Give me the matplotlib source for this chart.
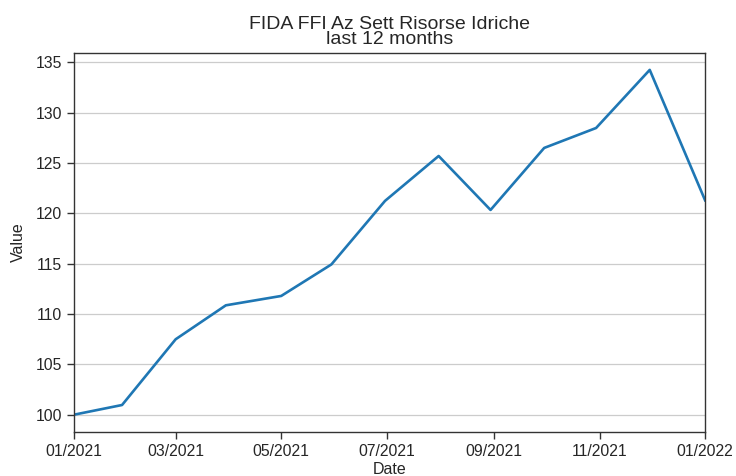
import matplotlib
matplotlib.use("Agg")
import matplotlib.pyplot as plt
import matplotlib.dates as mdates
import pandas as pd

dates = ["2021-01-01", "2021-01-29", "2021-03-01", "2021-03-30", "2021-05-01",
         "2021-05-30", "2021-06-30", "2021-07-31", "2021-08-30", "2021-09-30",
         "2021-10-30", "2021-11-30", "2022-01-01"]
values = [100.0, 100.97, 107.5, 110.87, 111.8, 114.93, 121.24, 125.7, 120.34,
          126.5, 128.48, 134.25, 121.3]
title = "FIDA FFI Az Sett Risorse Idriche\nlast 12 months"

plt.rcParams['font.family'] = ['Liberation Sans', 'DejaVu Sans']
text_color = '#262626'

x = pd.to_datetime(dates)
fig = plt.figure(figsize=(7.36, 4.76), dpi=100)
ax = fig.add_axes([0.1, 0.0924, 0.858, 0.797])
ax.plot(x, values, color='#1f77b4', linewidth=1.9)
ax.set_xlim(x[0], x[-1])
ax.margins(y=0.05)
ax.yaxis.grid(True, color='#cccccc', linewidth=0.9)
ax.set_axisbelow(True)
ax.xaxis.set_major_locator(mdates.MonthLocator(bymonth=[1, 3, 5, 7, 9, 11]))
ax.xaxis.set_major_formatter(mdates.DateFormatter('%m/%Y'))
for s in ax.spines.values():
    s.set_color('#333333')
    s.set_linewidth(1.0)
ax.tick_params(axis='both', colors='#333333', labelcolor=text_color, labelsize=11.3, length=5, width=1)
ax.set_xlabel('Date', fontsize=11.5, color=text_color, labelpad=2)
ax.set_ylabel('Value', fontsize=11.5, color=text_color, labelpad=7)
ax.set_title(title, fontsize=14, color=text_color, linespacing=0.85)
fig.savefig('out.png', dpi=100)
